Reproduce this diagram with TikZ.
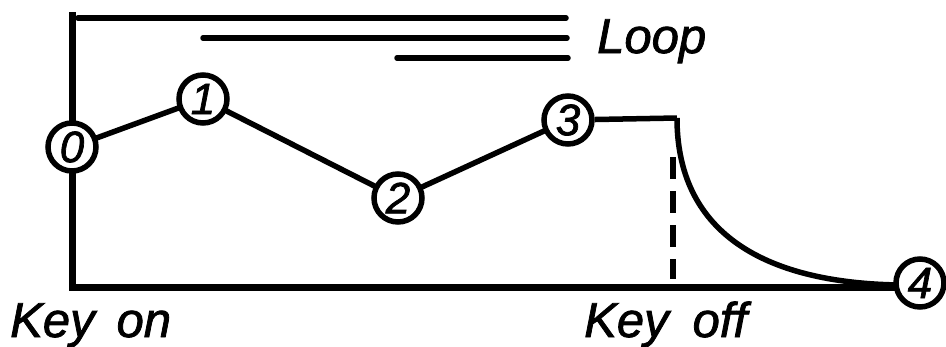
\documentclass[tikz,border=0pt]{standalone}
\usepackage{fontspec}
\setmainfont{Liberation Sans}[ItalicFeatures={FakeBold=1.6}]
\usetikzlibrary{positioning,calc}
\tikzset{
  stage/.style={circle,draw,fill=white,line width=5.5pt,minimum size=48pt,inner sep=0pt,
    font=\fontsize{44}{44}\selectfont\itshape},
  envLine/.style={line width=5.5pt,line cap=round},
  axisLine/.style={line width=7pt},
  keyLabel/.style={font=\fontsize{49}{49}\selectfont\itshape,anchor=base west,inner sep=0pt},
}
\begin{document}
\begin{tikzpicture}[x=1pt,y=-1pt]
\useasboundingbox (0,0) rectangle (946,346);

% Corner anchors
\coordinate (axisTop) at (72,12);
\coordinate (origin) at (72,287);
\coordinate (keyOff) at (677,118);

% ===== Loop marks =====
\foreach \xa/\xb/\y in {78/566/18,203/567/38,397/568/58} {
  \draw[envLine] (\xa,\y) -- (\xb,\y);
}
\node[keyLabel] (loopLabel) at (597,53) {Loop};

% ===== Axes =====
\draw[axisLine] (axisTop) -- (origin) -- (900,287);

% ===== Release =====
\draw[envLine,dashed,dash pattern=on 22pt off 12pt,line cap=butt] (673,157) -- (673,279);
\draw[envLine,line cap=butt] (keyOff) .. controls (677,230) and (760,283) .. (900,285);

% ===== Envelope points =====
\node[stage] (p0) at (72,147) {0};
\node[stage] (p1) at (203,99) {1};
\node[stage] (p2) at (398,198) {2};
\node[stage] (p3) at (568,120) {3};
\node[stage] (p4) at (920,283) {4};

\draw[envLine] (p0) -- (p1) -- (p2) -- (p3);
\draw[envLine,line cap=butt] (p3) -- (keyOff);

% ===== Key labels =====
\node[keyLabel] (keyOnLabel) at (10,337) {Key\hspace{22pt}on};
\node[keyLabel] (keyOffLabel) at (584,337) {Key\hspace{24pt}off};

\end{tikzpicture}
\end{document}
